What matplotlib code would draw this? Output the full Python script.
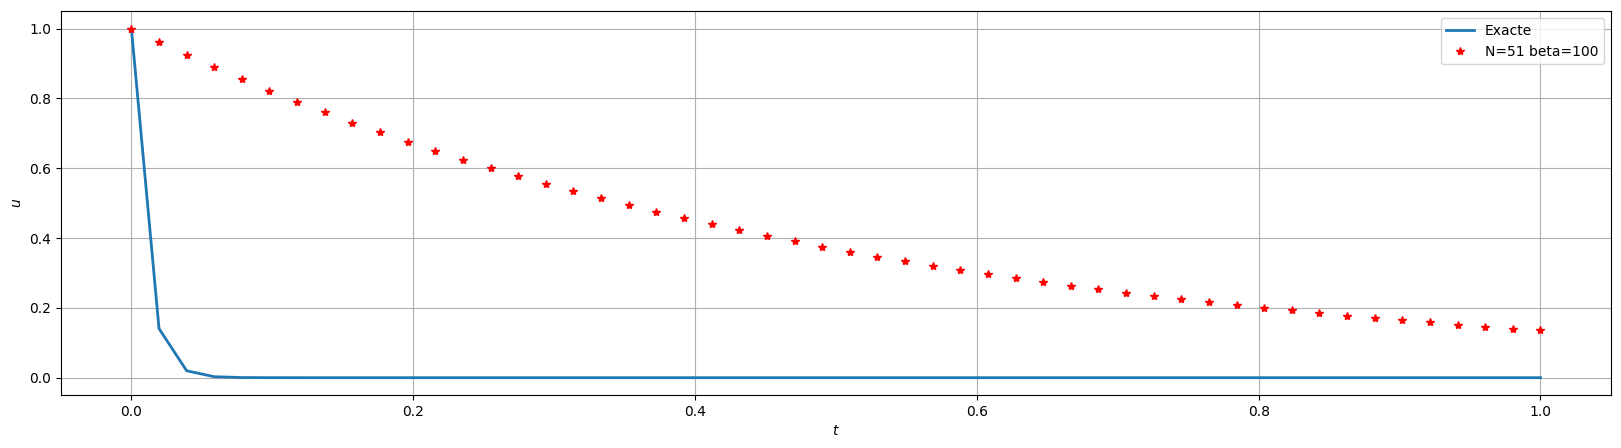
import matplotlib
matplotlib.use("Agg")
import matplotlib.pyplot as plt

# time grid (N=51 intervals on [0, 1])
t = [0.0, 0.0196, 0.0392, 0.0588, 0.0784, 0.098, 0.1176, 0.1373, 0.1569, 0.1765,
     0.1961, 0.2157, 0.2353, 0.2549, 0.2745, 0.2941, 0.3137, 0.3333, 0.3529, 0.3725,
     0.3922, 0.4118, 0.4314, 0.451, 0.4706, 0.4902, 0.5098, 0.5294, 0.549, 0.5686,
     0.5882, 0.6078, 0.6275, 0.6471, 0.6667, 0.6863, 0.7059, 0.7255, 0.7451, 0.7647,
     0.7843, 0.8039, 0.8235, 0.8431, 0.8627, 0.8824, 0.902, 0.9216, 0.9412, 0.9608,
     0.9804, 1.0]

# exact solution (drops almost to zero right away)
u_exact = [1.0, 0.1407, 0.0198, 0.0028, 0.0004, 0.0001] + [0.0] * 46

# numerical solution
u_num = [1.0, 0.9616, 0.9246, 0.889, 0.8548, 0.8219, 0.7903, 0.76, 0.7308, 0.7026,
         0.6756, 0.6496, 0.6246, 0.6006, 0.5775, 0.5553, 0.5339, 0.5134, 0.4937, 0.4747,
         0.4564, 0.4389, 0.422, 0.4058, 0.3902, 0.3752, 0.3608, 0.3469, 0.3335, 0.3207,
         0.3084, 0.2965, 0.2851, 0.2741, 0.2636, 0.2535, 0.2437, 0.2343, 0.2253, 0.2167,
         0.2083, 0.2003, 0.1926, 0.1852, 0.1781, 0.1712, 0.1646, 0.1583, 0.1522, 0.1464,
         0.1408, 0.1353]

fig, ax = plt.subplots(figsize=(16.21, 4.48), dpi=100)
fig.subplots_adjust(left=0.0376, right=0.9938, top=0.975, bottom=0.118)

ax.plot(t, u_exact, lw=2, label="Exacte")
ax.plot(t, u_num, "r*", label="N=51 beta=100")
ax.set_xlabel("$t$")
ax.set_ylabel("$u$")
ax.grid(True)
ax.legend(loc="upper right")

plt.savefig("out.png", dpi=100)
